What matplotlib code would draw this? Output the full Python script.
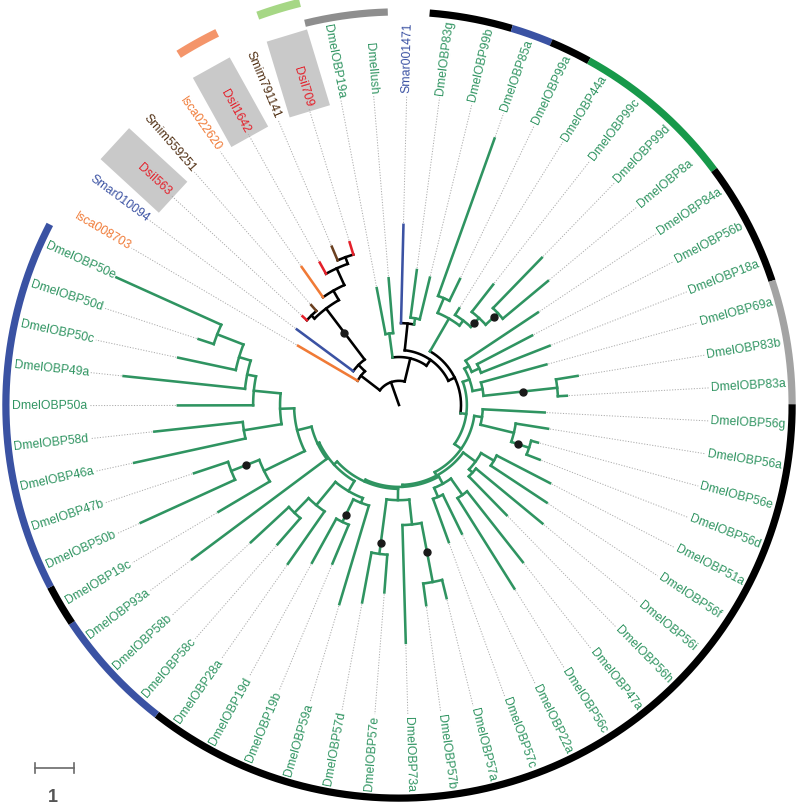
import numpy as np
import matplotlib
matplotlib.use("Agg")
import matplotlib.pyplot as plt

# ---------------- data ----------------
# Newick tree; numbers are each node's distance from the root (scale-bar units)
tree_newick = (
    "((Isca008703:3.00,(Smar010094:3.26,((Dsil563:3.36,Smim559251:3.41)ND:3.21,"
    "(Isca022620:4.33,(Dsil1642:4.18,(Smim791141:4.41,Dsil709:4.36)NG:4.03)NF:3.85)NE:3.38)NC:3.10)NB:1.46)NA:1.23,"
    "((DmelOBP19a:3.05,Dmellush:3.26)N19:1.85,"
    "((Smar001471:4.62,(DmelOBP83g:3.49,DmelOBP99b:3.36)N83g:2.26)NS:2.10,"
    "(((DmelOBP85a:7.26,DmelOBP99a:3.59)N85:2.97,(DmelOBP44a:2.92,(DmelOBP99c:3.92,"
    "(DmelOBP99d:5.26,DmelOBP8a:4.97)N99d:3.46)N99:3.03)N44:2.72)NR1:2.56,"
    "(((DmelOBP84a:4.28,(DmelOBP56b:3.85,DmelOBP18a:4.15)N56b:2.26)N84:2.05,"
    "(DmelOBP69a:3.92,(DmelOBP83b:4.64,DmelOBP83a:4.31)N83:4.08)N69:2.18)NR2:1.92,"
    "((DmelOBP56g:3.74,(DmelOBP56a:3.87,(DmelOBP56e:3.69,DmelOBP56d:3.87)N56e:3.51)N56a:3.03)NR3:2.15,"
    "(((DmelOBP51a:4.36,DmelOBP56f:4.54)N51:2.82,(DmelOBP56i:4.77,DmelOBP56h:3.95)N56i:2.56)NR4:2.44,"
    "(((DmelOBP47a:5.13,DmelOBP56c:5.56)N47a:2.82,(DmelOBP22a:3.67,DmelOBP57c:3.74)N22:2.56)NR5:2.31,"
    "((((DmelOBP57a:5.10,DmelOBP57b:5.18)N57ab:4.62,DmelOBP73a:6.10)N57:3.08,"
    "(DmelOBP57e:4.82,DmelOBP57d:5.15)N57de:3.85)NR6:2.44,"
    "(((DmelOBP59a:5.33,(DmelOBP19b:4.41,DmelOBP19d:4.62)N19b:3.33)N59:2.69,"
    "(DmelOBP28a:4.97,(DmelOBP58c:4.74,DmelOBP58b:5.18)N58:3.85)N28:3.33)NR7:2.56,"
    "(DmelOBP93a:6.62,((DmelOBP19c:5.38,(DmelOBP50b:7.28,DmelOBP47b:5.54)N47b:4.62)N19c:3.85,"
    "((DmelOBP46a:6.95,DmelOBP58d:6.31)N58d:4.03,(DmelOBP50a:5.67,(DmelOBP49a:7.10,"
    "(DmelOBP50c:5.79,(DmelOBP50d:5.41,DmelOBP50e:7.95)N50de:5.00)N50c:4.28)N49:3.97)N50:3.74)NL:3.05)NW:2.69)NV:2.31"
    ")NB8:2.26)NB7:2.15)NB6:2.10)NB5:2.05)NB4:1.95)NB3:1.74)NB2:1.59)NB1:1.41)NB0:1.23"
    ")ROOT:0.62;"
)

black_nodes = ["ROOT", "NA", "NB", "NC", "ND", "NE", "NF", "NG", "NB0", "NB1", "NB2", "NS"]

support_nodes = ["NC", "N99", "N99d", "N83", "N56e", "N57ab", "N57de", "N19b", "N47b"]
support_depths = [2.32, 2.85, 3.31, 3.19, 3.22, 3.85, 3.56, 3.13, 4.21]

highlight_leaves = ["Dsil563", "Dsil1642", "Dsil709"]

ring_first = [8, 11, 13, 14, 15, 19, 22, 25, 46, 49, 50]
ring_last = [9, 12, 13, 14, 18, 21, 24, 45, 48, 49, 58]
ring_colors = ["#8e8e8e", "#000000", "#3a52a3", "#000000", "#17994a", "#000000",
               "#a3a3a3", "#000000", "#3a52a3", "#000000", "#3a52a3"]
outer_marks = [5, 7]
outer_colors = ["#f4956a", "#a6d785"]

prefix_label_color = {"Isca": "#f07a36", "Smar": "#3b52a3", "Dsil": "#e4202a",
                      "Smim": "#4f2e12", "Dmel": "#2f9461"}
prefix_branch_color = {"Isca": "#f07a36", "Smar": "#3b52a3", "Dsil": "#e4202a",
                       "Smim": "#6b4020", "Dmel": "#2f9461"}

# ---------------- style / geometry ----------------
START_ANG = 149.6      # angle of first leaf (deg)
LABEL_R = 8.0
RING_R = 10.08
OUTER_R = 10.62
RMAX = 10.795
GREEN = "#2f9461"
LW = 1.85


def parse(s):
    pos = 0

    def node():
        nonlocal pos
        children = []
        if s[pos] == "(":
            pos += 1
            children.append(node())
            while s[pos] == ",":
                pos += 1
                children.append(node())
            pos += 1
        st = pos
        while s[pos] not in ":,);":
            pos += 1
        name = s[st:pos]
        depth = 0.0
        if s[pos] == ":":
            pos += 1
            st = pos
            while s[pos] not in ",);":
                pos += 1
            depth = float(s[st:pos])
        return {"name": name, "depth": depth, "children": children}

    return node()


root = parse(tree_newick)
leaves = []
nodes = {}


def collect(n):
    nodes[n["name"]] = n
    if not n["children"]:
        leaves.append(n)
    for c in n["children"]:
        collect(c)


collect(root)
step = 360.0 / len(leaves)
for i, lf in enumerate(leaves):
    lf["ang"] = START_ANG - i * step


def set_ang(n):
    if n["children"]:
        for c in n["children"]:
            set_ang(c)
        n["ang"] = float(np.mean([c["ang"] for c in n["children"]]))


set_ang(root)

W, H = 800, 808
fig = plt.figure(figsize=(W / 100, H / 100), dpi=100)
cx, cy = 399, 403   # centre from bottom (px)
Rpx = RMAX * 39.0
ax = fig.add_axes([(cx - Rpx) / W, (cy - Rpx) / H, 2 * Rpx / W, 2 * Rpx / H], projection="polar")
ax.set_rlim(0, RMAX)
ax.set_axis_off()


def prefix(name):
    return name[:4]


def edge_color(n):
    if not n["children"]:
        return prefix_branch_color[prefix(n["name"])]
    return "black" if n["name"] in black_nodes else GREEN


def draw(n, parent_depth):
    th = np.radians(n["ang"])
    col = edge_color(n)
    ax.plot([th, th], [parent_depth, n["depth"]], color=col, lw=LW,
            solid_capstyle="projecting", zorder=3)
    if n["children"]:
        a = [c["ang"] for c in n["children"]]
        lo, hi = min(a), max(a)
        tt = np.radians(np.linspace(lo, hi, max(2, int((hi - lo) * 2))))
        ax.plot(tt, np.full_like(tt, n["depth"]), color=col, lw=LW,
                solid_capstyle="projecting", zorder=3)
        for c in n["children"]:
            draw(c, n["depth"])


draw(root, 0.0)

# leader lines and labels
for lf in leaves:
    th = np.radians(lf["ang"])
    if lf["depth"] < LABEL_R - 0.1:
        ax.plot([th, th], [lf["depth"] + 0.05, LABEL_R - 0.05], color="#ababab", lw=0.7,
                linestyle=(0, (1.2, 1.6)), zorder=1)
    a = (lf["ang"] + 180) % 360 - 180
    if -90 <= a <= 90:
        rot, ha = a, "left"
    else:
        rot, ha = a - 180 if a > 0 else a + 180, "right"
    ax.text(th, LABEL_R, lf["name"], rotation=rot, rotation_mode="anchor", ha=ha, va="center",
            fontsize=8.8, family="Liberation Sans", color=prefix_label_color[prefix(lf["name"])],
            zorder=4)

# grey boxes behind highlighted labels
for name in highlight_leaves:
    phi = np.radians(nodes[name]["ang"])
    u = np.array([np.cos(phi), np.sin(phi)])
    v = np.array([-np.sin(phi), np.cos(phi)])
    hw = 0.54
    pts = [7.87 * u - hw * v, 9.9 * u - hw * v, 9.9 * u + hw * v, 7.87 * u + hw * v]
    ths = [np.arctan2(p[1], p[0]) for p in pts]
    rs = [np.hypot(p[0], p[1]) for p in pts]
    ax.fill(ths, rs, color="#c9c9c9", lw=0, zorder=0.5)

# support dots
for nm, d in zip(support_nodes, support_depths):
    ax.plot([np.radians(nodes[nm]["ang"])], [d], "o", color="#1a1a1a", ms=5, zorder=5)

# outer ring
for f, l, c in zip(ring_first, ring_last, ring_colors):
    a0 = START_ANG - (f - 0.5) * step
    a1 = START_ANG - (l + 0.5) * step
    tt = np.radians(np.linspace(a0, a1, 200))
    ax.plot(tt, np.full_like(tt, RING_R), color=c, lw=5.2, solid_capstyle="butt", zorder=2)
for i, c in zip(outer_marks, outer_colors):
    a0 = START_ANG - (i - 0.5) * step
    a1 = START_ANG - (i + 0.5) * step
    tt = np.radians(np.linspace(a0, a1, 50))
    ax.plot(tt, np.full_like(tt, OUTER_R), color=c, lw=6, solid_capstyle="butt", zorder=2)

# scale bar (1 unit) on overlay axes with the same units
sax = fig.add_axes([0, 0, 1, 1])
sax.set_xlim(0, W / 39.0)
sax.set_ylim(0, H / 39.0)
sax.set_axis_off()
x0, y0 = 35 / 39.0, (H - 768) / 39.0
sax.plot([x0, x0 + 1], [y0, y0], color="#6a6a6a", lw=1.2)
sax.plot([x0, x0], [y0 - 0.12, y0 + 0.12], color="#6a6a6a", lw=1.2)
sax.plot([x0 + 1, x0 + 1], [y0 - 0.12, y0 + 0.12], color="#6a6a6a", lw=1.2)
sax.text(x0 + 0.45, y0 - 0.75, "1", fontsize=13, fontweight="bold", color="#555555",
         ha="center", va="center", family="Liberation Sans")

fig.savefig("out.png", dpi=100)
